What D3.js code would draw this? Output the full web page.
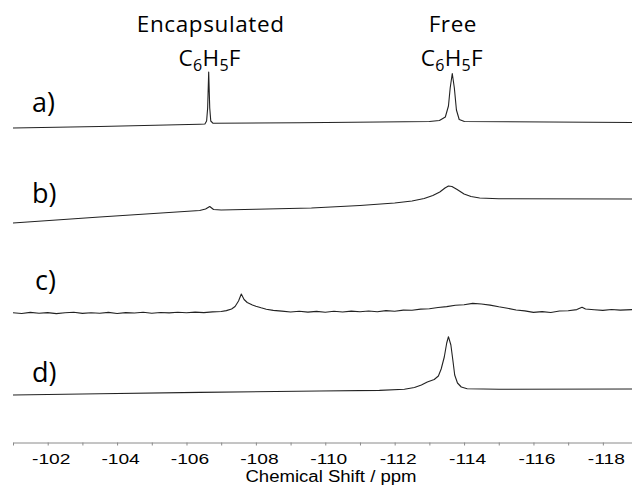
<!DOCTYPE html>
<html>
<head>
<meta charset="utf-8">
<script src="https://cdnjs.cloudflare.com/ajax/libs/d3/7.8.5/d3.min.js"></script>
<style>
  body { margin: 0; background: #fff; }
  svg { display: block; }
  .trace { fill: none; stroke: #222; stroke-width: 1.1; stroke-linejoin: round; }
  .axis path, .axis line { stroke: #8a8a8a; }
  .axis text { font-family: "Liberation Sans", Arial, sans-serif; fill: #000; }
  .lab { font-family: "Open Sans", sans-serif; fill: #000; }
</style>
</head>
<body>
<svg id="chart" width="632" height="486"></svg>
<script>
// 19F NMR spectra, chemical shift (ppm) vs intensity (a.u., above each trace's own baseline)
var specA = [[-101.0,0],[-103.5,1.5],[-106.38,3.8],[-106.53,4],[-106.58,7],[-106.61,20],[-106.64,56],
  [-106.67,20],[-106.70,7],[-106.76,4.8],[-109.26,5.3],[-111.56,6],[-113.0,6.5],[-113.29,7.5],
  [-113.46,11],[-113.55,22],[-113.60,40],[-113.66,54.5],[-113.72,40],[-113.78,18],[-113.86,8.5],
  [-114.01,6.5],[-116.45,6],[-118.84,5.5]];

var specB = [[-101.0,0],[-103.5,6],[-106.38,12.5],[-106.55,14],[-106.67,16.5],[-106.78,13.5],[-107.0,13],
  [-108.0,13.8],[-109.6,15],[-111.0,17.5],[-112.0,20],[-112.5,22],[-112.85,24.5],[-113.1,27.5],
  [-113.3,31],[-113.45,35],[-113.55,37],[-113.65,36.5],[-113.8,33.5],[-114.0,29],[-114.2,26.5],
  [-114.45,25],[-115.0,24.3],[-118.84,24]];

var specC = [[-101.0,0.3],[-101.25,-0.5],[-101.5,0.6],[-101.75,-0.3],[-102.0,0.4],[-102.25,-0.6],
  [-102.5,0.2],[-102.75,0.7],[-103.0,-0.4],[-103.25,0.3],[-103.5,-0.2],[-103.75,0.6],[-104.0,-0.5],
  [-104.25,0.4],[-104.5,0.0],[-104.75,0.8],[-105.0,-0.3],[-105.25,0.5],[-105.5,0.1],[-105.75,0.7],
  [-106.0,0.2],[-106.25,0.9],[-106.5,0.4],[-106.75,1.1],[-107.0,1.5],[-107.15,2.4],[-107.3,4],
  [-107.4,6.5],[-107.5,12],[-107.58,19],[-107.66,13.5],[-107.75,10.5],[-107.9,8],[-108.0,6.8],
  [-108.15,5.2],[-108.3,3.8],[-108.5,2.6],[-108.75,1.9],[-109.0,1.0],[-109.25,1.8],[-109.5,0.9],
  [-109.75,1.6],[-110.0,0.8],[-110.25,1.7],[-110.5,1.0],[-110.75,1.9],[-111.0,1.2],[-111.25,2.0],
  [-111.5,1.3],[-111.75,2.4],[-112.0,1.8],[-112.25,2.9],[-112.5,2.7],[-112.75,3.9],[-113.0,4.2],
  [-113.25,5.5],[-113.5,6.4],[-113.75,7.8],[-114.0,8.2],[-114.25,9.6],[-114.5,9.0],[-114.75,7.9],
  [-115.0,6.2],[-115.25,4.8],[-115.5,3.0],[-115.75,2.1],[-116.0,0.6],[-116.25,1.4],[-116.5,0.5],
  [-116.75,2.0],[-117.0,2.2],[-117.25,3.4],[-117.4,5.8],[-117.5,4.0],[-117.75,3.3],[-118.0,2.6],
  [-118.25,3.5],[-118.5,2.9],[-118.84,3.4]];

var specD = [[-101.0,0],[-103.5,1.2],[-106.38,2.6],[-109.83,4],[-111.56,4.6],[-112.28,5.8],[-112.57,7.5],
  [-112.77,10],[-112.94,13],[-113.14,15.5],[-113.26,19],[-113.34,26],[-113.43,38],[-113.50,52],
  [-113.55,58.3],[-113.62,50],[-113.68,34],[-113.73,20],[-113.81,12],[-113.92,8],[-114.09,6.3],
  [-115.01,5.8],[-118.84,6]];

var spectra = [specA, specB, specC, specD];
var traceNames = ["a)", "b)", "c)", "d)"];
var baseOffsets = [314, 219, 129, 47];   // vertical stacking offset of each trace (a.u.)
var majorTicks = [-102, -104, -106, -108, -110, -112, -114, -116, -118];
var minorTicks = [-101, -103, -105, -107, -109, -111, -113, -115, -117];
var xTitle = "Chemical Shift / ppm";

var svg = d3.select("#chart");
var x = d3.scaleLinear().domain([-101, -118.84]).range([13, 632]);
var y = d3.scaleLinear().domain([0, 400]).range([442, 42]);
var axisY = 442.5;

var line = d3.line()
  .x(function(d) { return x(d[0]); })
  .y(function(d) { return d.y; });

spectra.forEach(function(s, i) {
  var pts = s.map(function(p) { var q = [p[0], p[1]]; q.y = y(baseOffsets[i] + p[1]); return q; });
  svg.append("path").attr("class", "trace").attr("d", line(pts));
});

// panel labels
var labelY = [112, 203, 290, 382];
var labelX = [32, 32, 35, 32];
svg.selectAll(".panel").data(traceNames).enter().append("text")
  .attr("class", "lab panel")
  .attr("x", function(d, i) { return labelX[i]; })
  .attr("y", function(d, i) { return labelY[i]; })
  .style("font-size", "27px")
  .text(function(d) { return d; });

// peak annotations
function formula(g) {
  g.append("tspan").text("C");
  g.append("tspan").attr("dy", 5).style("font-size", "16px").text("6");
  g.append("tspan").attr("dy", -5).text("H");
  g.append("tspan").attr("dy", 5).style("font-size", "16px").text("5");
  g.append("tspan").attr("dy", -5).text("F");
}
var notes = [{ t: "Encapsulated", ppm: -106.64 }, { t: "Free", ppm: -113.62 }];
notes.forEach(function(n) {
  svg.append("text").attr("class", "lab").attr("text-anchor", "middle")
    .attr("x", x(n.ppm) + 2).attr("y", 32)
    .style("font-size", "22.5px").style("letter-spacing", "0.6px")
    .text(n.t);
  svg.append("text").attr("class", "lab").attr("text-anchor", "middle")
    .attr("x", x(n.ppm) + 1).attr("y", 66)
    .style("font-size", "22.5px").style("letter-spacing", "0.3px")
    .call(formula);
});

// x axis
var gx = svg.append("g").attr("class", "axis").attr("transform", "translate(0," + axisY + ")");
gx.call(d3.axisBottom(x).tickValues(majorTicks).tickSize(3).tickSizeOuter(0)
  .tickFormat(function(d) { return d3.format("d")(d).replace("\u2212", "-"); }));
gx.selectAll(".tick text")
  .attr("y", 21.5).attr("dy", 0)
  .attr("transform", "translate(3,0) scale(1.28,1)")
  .style("font-size", "15px");
svg.append("g").attr("class", "axis").attr("transform", "translate(0," + axisY + ")")
  .call(d3.axisBottom(x).tickValues(minorTicks).tickSize(3).tickFormat(""))
  .select(".domain").remove();

svg.append("text")
  .attr("transform", "translate(331,482) scale(1.16,1)")
  .attr("text-anchor", "middle")
  .style("font-family", "'Liberation Sans', Arial, sans-serif")
  .style("font-size", "16px").style("fill", "#000")
  .text(xTitle);
</script>
</body>
</html>
